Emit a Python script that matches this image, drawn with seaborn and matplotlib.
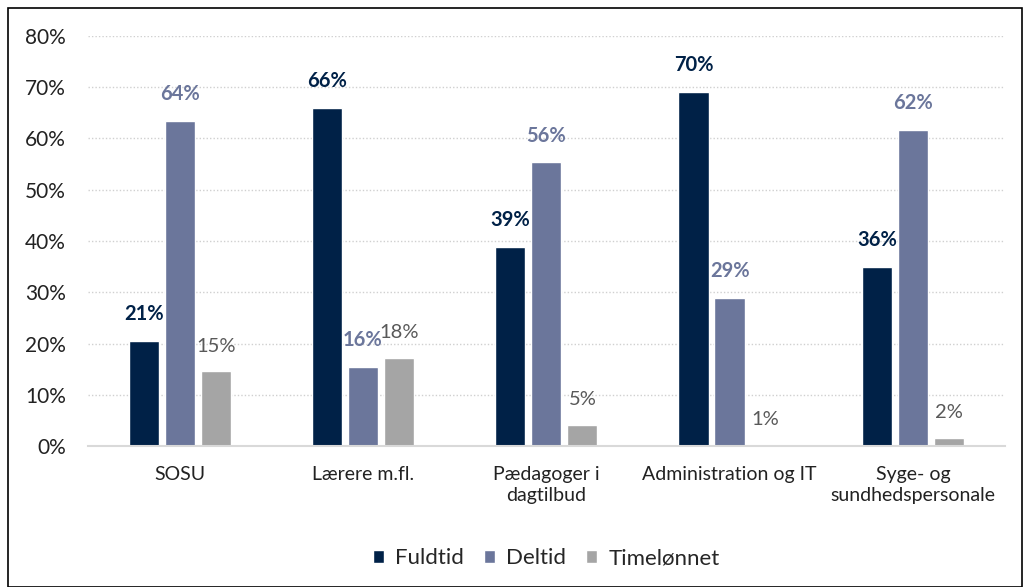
import seaborn as sns
import matplotlib.pyplot as plt
import pandas as pd
from matplotlib.patches import Rectangle
from matplotlib.ticker import PercentFormatter

# data
categories = ["SOSU", "Lærere m.fl.", "Pædagoger i\ndagtilbud", "Administration og IT", "Syge- og\nsundhedspersonale"]
series = ["Fuldtid", "Deltid", "Timelønnet"]
fuldtid = [20.5, 66.0, 38.9, 69.1, 34.9]
deltid = [63.4, 15.4, 55.3, 28.9, 61.7]
timeloennet = [14.6, 17.2, 4.1, 0.3, 1.6]
fuldtid_lbl = ["21%", "66%", "39%", "70%", "36%"]
deltid_lbl = ["64%", "16%", "56%", "29%", "62%"]
timeloennet_lbl = ["15%", "18%", "5%", "1%", "2%"]

colors = ["#002147", "#6B769B", "#A5A5A5"]
label_colors = ["#002147", "#6B769B", "#595959"]
label_weights = ["bold", "bold", "normal"]

df = pd.DataFrame({
    "Kategori": categories * 3,
    "Gruppe": [series[0]] * 5 + [series[1]] * 5 + [series[2]] * 5,
    "Andel": fuldtid + deltid + timeloennet,
})

sns.set_style("white")
plt.rcParams['font.family'] = ['Lato', 'DejaVu Sans']

fig = plt.figure(figsize=(10.24, 5.87), dpi=100)
ax = fig.add_axes([0.086, 0.240, 0.895, 0.699])

sns.barplot(data=df, x="Kategori", y="Andel", hue="Gruppe", order=categories,
            hue_order=series, palette=colors, width=0.59, gap=0.16,
            saturation=1, ax=ax, legend=True)

all_lbls = [fuldtid_lbl, deltid_lbl, timeloennet_lbl]
for i, cont in enumerate(ax.containers):
    for bar, txt in zip(cont, all_lbls[i]):
        ax.annotate(txt, (bar.get_x() + bar.get_width() / 2, bar.get_height()),
                    xytext=(0, 12), textcoords="offset points", ha="center", va="bottom",
                    fontsize=14.5, color=label_colors[i], fontweight=label_weights[i])

ax.set_xlim(-0.5, 4.5)
ax.set_ylim(0, 80)
ax.set_yticks(range(0, 81, 10))
ax.yaxis.set_major_formatter(PercentFormatter(decimals=0))
ax.grid(axis="y", color="#D0D0D0", linestyle=(0, (1, 1.5)), linewidth=1)
ax.set_axisbelow(True)
ax.set_xlabel("")
ax.set_ylabel("")
for s in ["left", "right", "top"]:
    ax.spines[s].set_visible(False)
ax.spines["bottom"].set_color("#D9D9D9")
ax.spines["bottom"].set_linewidth(1.5)
ax.tick_params(axis="y", length=0, pad=16, labelsize=15, labelcolor="#222222")
ax.tick_params(axis="x", length=0, pad=14, labelsize=14, labelcolor="#222222")
for t in ax.get_xticklabels():
    t.set_linespacing(1.3)

ax.legend(loc="upper center", bbox_to_anchor=(0.5, -0.20), ncol=3, frameon=False,
          fontsize=16, handlelength=0.5, handleheight=0.5, handletextpad=0.5,
          columnspacing=0.9)

fig.patches.append(Rectangle((0.008, 0.0), 0.99, 0.986, transform=fig.transFigure,
                             fill=False, edgecolor="black", linewidth=1.2))

fig.savefig("out.png", dpi=100)
